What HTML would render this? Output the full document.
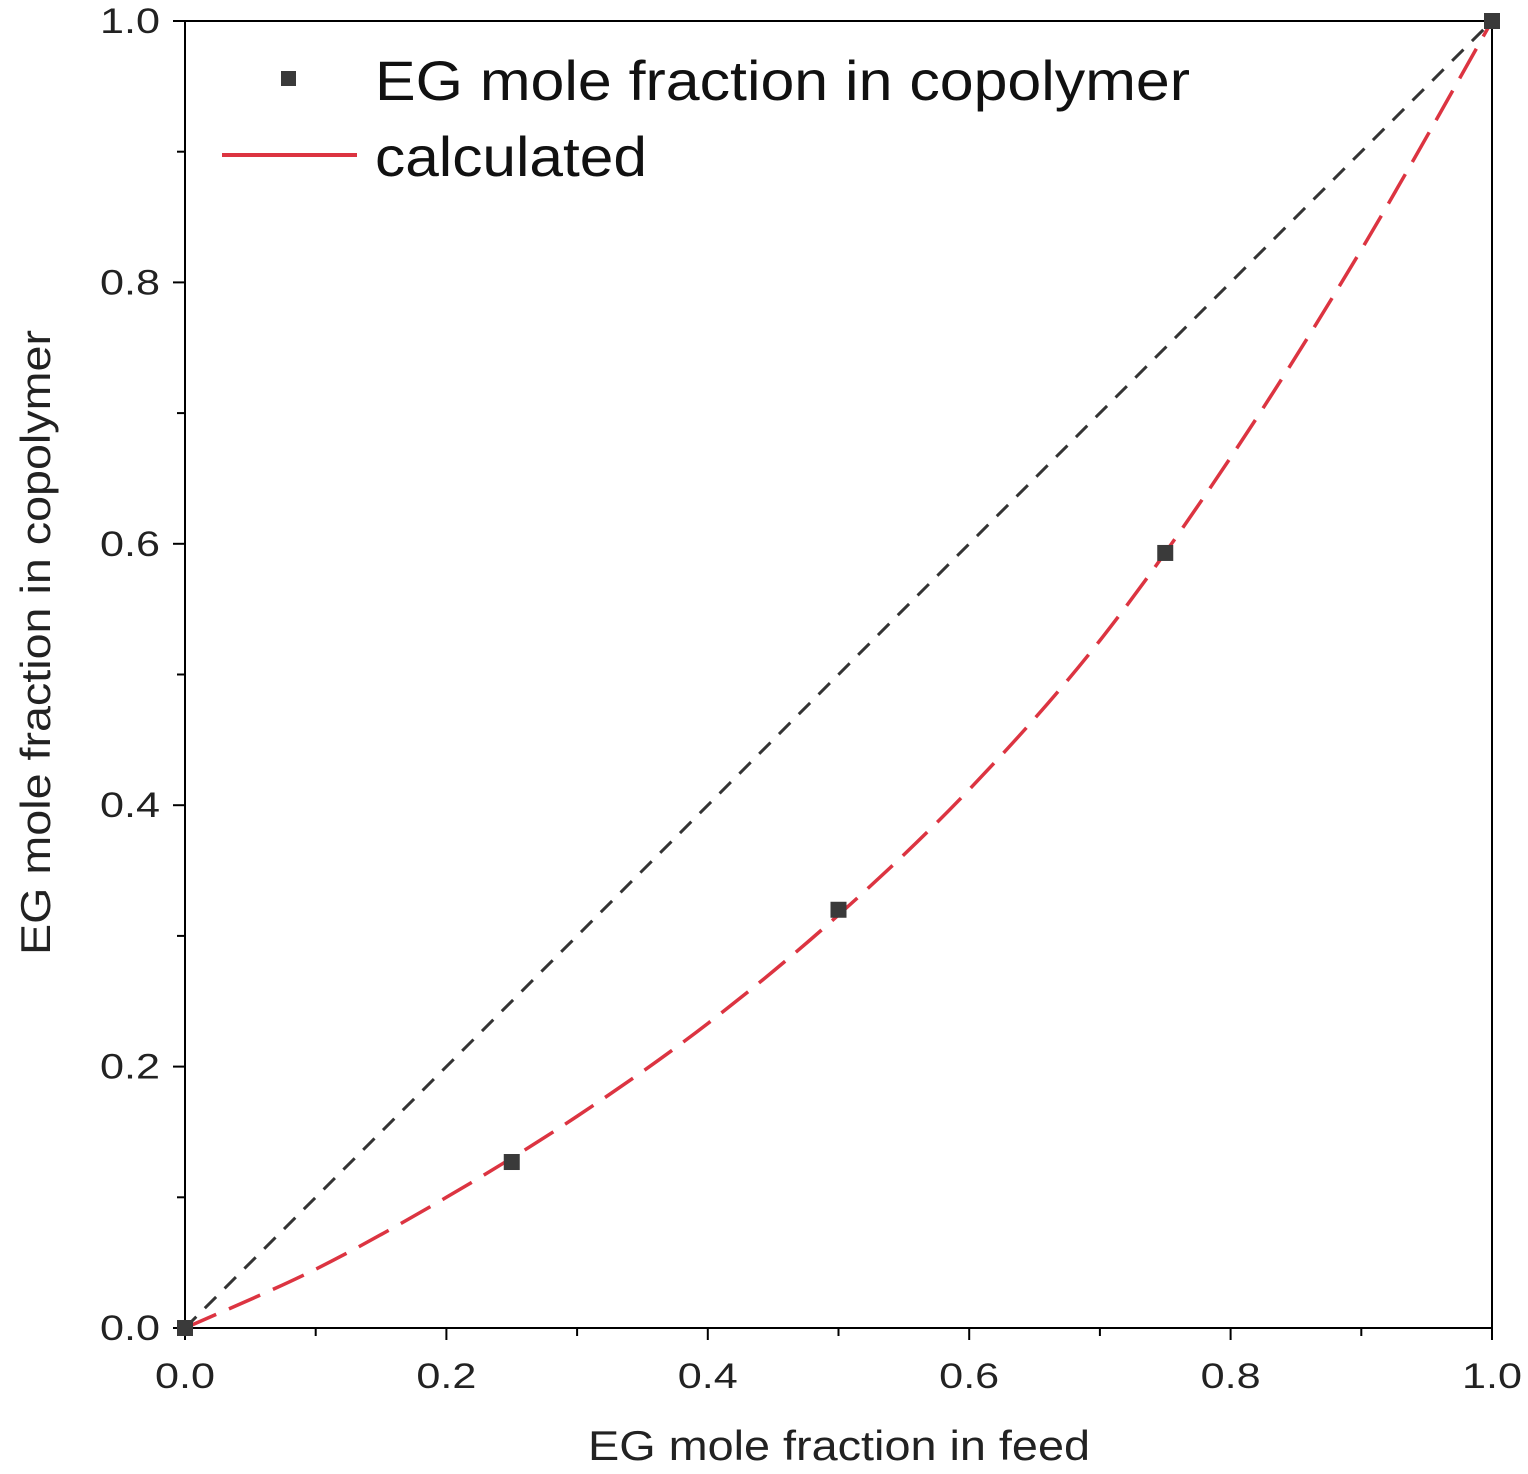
<!DOCTYPE html>
<html><head><meta charset="utf-8"><style>
body{margin:0;background:#fff}
svg text{font-family:"Liberation Sans",sans-serif}
</style></head><body>
<svg id="chart" width="1528" height="1469" viewBox="0 0 1528 1469" xmlns="http://www.w3.org/2000/svg">
<g id="plot"></g>
</svg>
<script>
const feedX=[0,0.25,0.5,0.75,1.0];
const copolymerY=[0,0.127,0.32,0.593,1.0];
const calcX=[0,0.1,0.2,0.3,0.4,0.5,0.6,0.7,0.8,0.9,1.0];
const calcY=[0,0.045,0.10,0.162,0.233,0.316,0.412,0.526,0.666,0.825,1.0];
const diagX=[0,1];
const diagY=[0,1];
const tickLabels=["0.0","0.2","0.4","0.6","0.8","1.0"];
const tickValues=[0,0.2,0.4,0.6,0.8,1.0];
const minorValues=[0.1,0.3,0.5,0.7,0.9];

const X0=185,X1=1492,Y0=1328,Y1=21;
const sx=v=>X0+(X1-X0)*v;
const sy=v=>Y0-(Y0-Y1)*v;
const NS="http://www.w3.org/2000/svg";
const g=document.getElementById('plot');
function mk(tag,attrs,parent){const e=document.createElementNS(NS,tag);for(const k in attrs)e.setAttribute(k,attrs[k]);(parent||g).appendChild(e);return e;}

let frame=mk('rect',{x:X0,y:Y1,width:X1-X0,height:Y0-Y1,fill:'none',stroke:'#000','stroke-width':2});



tickValues.forEach((v,i)=>{
  let t=mk('line',{x1:sx(v),x2:sx(v),y1:Y0,y2:Y0+12,stroke:'#000','stroke-width':2});
  
  
  let l=mk('text',{x:sx(v)-30,y:1388,'font-size':35,textLength:60,lengthAdjust:'spacingAndGlyphs',fill:'#222'});
  l.textContent=tickLabels[i];
  
  
  let ty=mk('line',{x1:X0-12,x2:X0,y1:sy(v),y2:sy(v),stroke:'#000','stroke-width':2});
  
  
  let ly=mk('text',{x:100,y:sy(v)+12,'font-size':35,textLength:60,lengthAdjust:'spacingAndGlyphs',fill:'#222'});
  ly.textContent=tickLabels[i];
  
  
});
minorValues.forEach(v=>{
  let t=mk('line',{x1:sx(v),x2:sx(v),y1:Y0,y2:Y0+8,stroke:'#000','stroke-width':2});
  
  
  let ty=mk('line',{x1:X0-8,x2:X0,y1:sy(v),y2:sy(v),stroke:'#000','stroke-width':2});
  
  
});

let xt=mk('text',{x:588,y:1460,'font-size':42,textLength:502,lengthAdjust:'spacingAndGlyphs',fill:'#222'});
xt.textContent='EG mole fraction in feed';


let yt=mk('text',{x:0,y:0,'font-size':42,textLength:625,lengthAdjust:'spacingAndGlyphs',fill:'#222',transform:'translate(50,955) rotate(-90)'});
yt.textContent='EG mole fraction in copolymer';



let d=mk('polyline',{points:diagX.map((v,i)=>sx(v)+','+sy(diagY[i])).join(' '),fill:'none',stroke:'#333','stroke-width':3,'stroke-dasharray':'16 12'});



const P=calcX.map((v,i)=>[sx(v),sy(calcY[i])]);
let dp='M'+P[0][0]+','+P[0][1];
for(let i=0;i<P.length-1;i++){
  const p0=P[Math.max(0,i-1)],p1=P[i],p2=P[i+1],p3=P[Math.min(P.length-1,i+2)];
  const c1=[p1[0]+(p2[0]-p0[0])/6,p1[1]+(p2[1]-p0[1])/6];
  const c2=[p2[0]-(p3[0]-p1[0])/6,p2[1]-(p3[1]-p1[1])/6];
  dp+=' C'+c1[0]+','+c1[1]+' '+c2[0]+','+c2[1]+' '+p2[0]+','+p2[1];
}
let c=mk('path',{d:dp,fill:'none',stroke:'#dc3441','stroke-width':3.5,'stroke-dasharray':'34 14'});



feedX.forEach((v,i)=>{
  let p=mk('rect',{x:sx(v)-8,y:sy(copolymerY[i])-8,width:16,height:16,fill:'#3a3a3a'});
  
  
});

let lm=mk('rect',{x:281,y:71,width:15,height:15,fill:'#3a3a3a'});


let lt1=mk('text',{x:375,y:100,'font-size':56,textLength:815,lengthAdjust:'spacingAndGlyphs',fill:'#111'});
lt1.textContent='EG mole fraction in copolymer';


let ll=mk('line',{x1:222,x2:357,y1:155,y2:155,stroke:'#dc3441','stroke-width':4});


let lt2=mk('text',{x:375,y:176,'font-size':56,textLength:272,lengthAdjust:'spacingAndGlyphs',fill:'#111'});
lt2.textContent='calculated';


</script>
</body></html>
